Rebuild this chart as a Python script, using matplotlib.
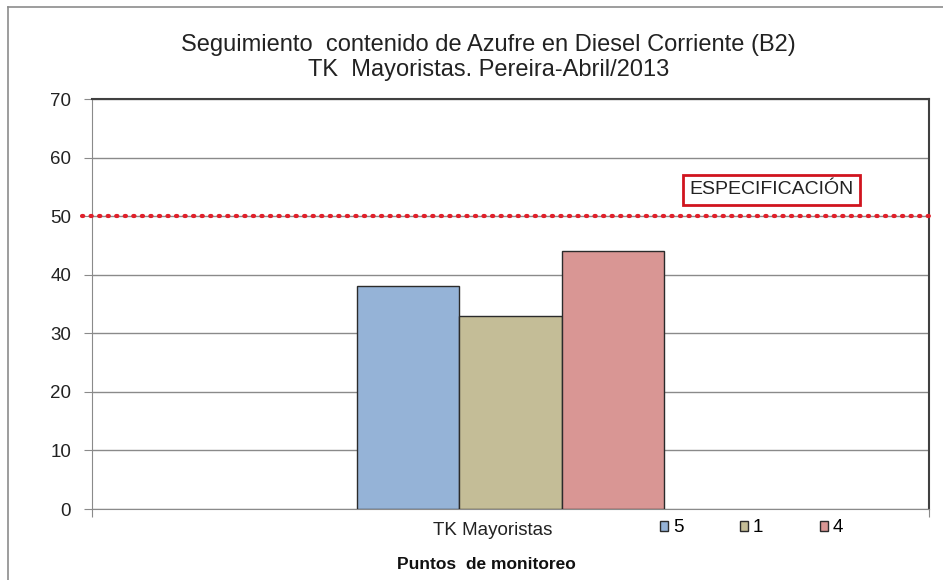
import matplotlib
matplotlib.use("Agg")
import matplotlib.pyplot as plt
from matplotlib.transforms import ScaledTranslation
import numpy as np

plt.rcParams['font.family'] = ['Liberation Sans', 'DejaVu Sans']

# data
category = "TK Mayoristas"
series_names = ["5", "1", "4"]
series_values = [38, 33, 44]
series_colors = ["#95B3D7", "#C4BD97", "#D99694"]
spec_limit = 50
y_ticks = [0, 10, 20, 30, 40, 50, 60, 70]

fig = plt.figure(figsize=(9.43, 5.8), dpi=100)
ax = fig.add_axes([0.0976, 0.1224, 0.8876, 0.7069])

# outer chart border (only top & left visible)
fig.add_artist(plt.Line2D([8 / 943, 8 / 943], [0, 1 - 7 / 580], color="#8c8c8c", lw=1.2,
                          transform=fig.transFigure))
fig.add_artist(plt.Line2D([8 / 943, 1], [1 - 7 / 580, 1 - 7 / 580], color="#8c8c8c", lw=1.2,
                          transform=fig.transFigure))

width = 0.1225
offsets = (np.arange(len(series_values)) - 1) * width
bars = []
for off, val, col, name in zip(offsets, series_values, series_colors, series_names):
    b = ax.bar(off, val, width=width, color=col, edgecolor="#2b2b2b", linewidth=1.0,
               label=name, zorder=3)
    bars.append(b)

ax.set_xlim(-0.5, 0.5)
ax.set_ylim(0, 70)
ax.set_yticks(y_ticks)
ax.yaxis.grid(True, color="#8a8a8a", lw=1.0, zorder=0)
ax.set_axisbelow(True)

# spec line, extends a bit past the left axis
ax.plot([-0.512, 0.5], [spec_limit, spec_limit], color="#E0202A", lw=3,
        linestyle=(0, (0.3, 1.75)), dash_capstyle="round", clip_on=False, zorder=4)
ax.text(0.312, 54.5, "ESPECIFICACIÓN", ha="center", va="center", fontsize=14,
        color="#222222",
        bbox=dict(boxstyle="square,pad=0.33", facecolor="white", edgecolor="#D0141E", lw=2))

for s in ["left", "bottom"]:
    ax.spines[s].set_color("#8a8a8a")
for s in ["top", "right"]:
    ax.spines[s].set_color("#404040")
    ax.spines[s].set_linewidth(1.5)

ax.tick_params(axis="y", length=6, color="#8a8a8a", labelsize=13.5, pad=9, labelcolor="#222222")
ax.set_xticks([-0.5, 0.5])
ax.set_xticklabels(["", ""])
ax.tick_params(axis="x", which="major", length=6, color="#8a8a8a")
ax.set_xticks([0], minor=True)
ax.set_xticklabels([category], minor=True)
ax.tick_params(axis="x", which="minor", length=0, labelsize=13.5, pad=9, labelcolor="#222222")
for lab in ax.get_xticklabels(minor=True):
    lab.set_transform(lab.get_transform() + ScaledTranslation(-0.18, 0, fig.dpi_scale_trans))

fig.text(0.516, 0.026, "Puntos  de monitoreo", ha="center", va="center",
         fontsize=12.5, fontweight="bold", color="#111111")

fig.text(0.518, 0.922, "Seguimiento  contenido de Azufre en Diesel Corriente (B2)",
         ha="center", va="center", fontsize=17, color="#222222")
fig.text(0.518, 0.879, "TK  Mayoristas. Pereira-Abril/2013",
         ha="center", va="center", fontsize=17, color="#222222")

fig.legend(handles=[b for b in bars], labels=series_names, loc="center",
           bbox_to_anchor=(0.797, 0.09), ncol=3, frameon=False, fontsize=13.5,
           handlelength=0.45, handleheight=0.45, handletextpad=0.25, columnspacing=3.0)

fig.savefig("out.png", dpi=100)
